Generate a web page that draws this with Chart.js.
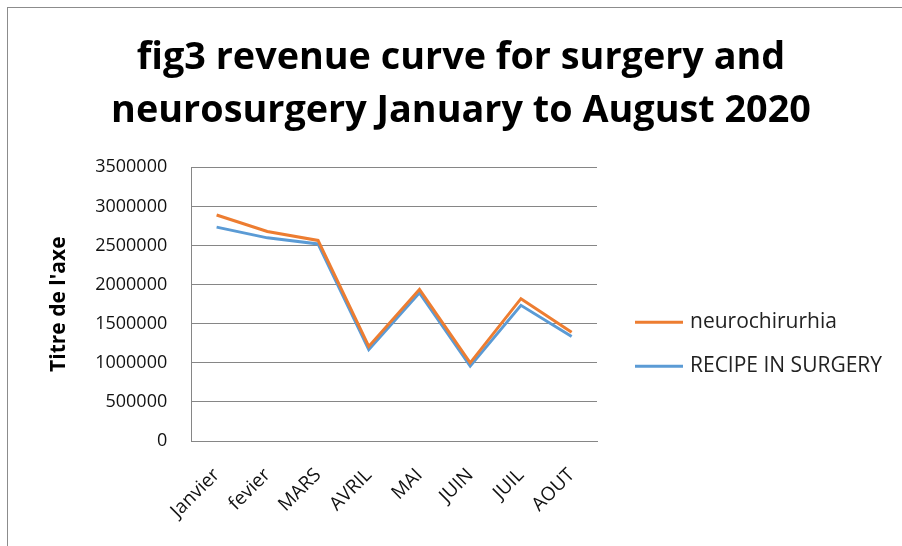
<!DOCTYPE html>
<html>
<head>
<meta charset="utf-8">
<script src="https://cdn.jsdelivr.net/npm/chart.js@4/dist/chart.umd.min.js"></script>
<style>
  html, body { margin: 0; padding: 0; background: #fff; }
  #wrap { position: relative; width: 902px; height: 546px; }
  #frame { position: absolute; left: 7px; top: 7px; width: 900px; height: 545px; border-top: 1px solid #8c8c8c; border-left: 1px solid #8c8c8c; pointer-events: none; }
  canvas { position: absolute; left: 0; top: 0; }
</style>
</head>
<body>
<div id="wrap">
  <canvas id="c" width="902" height="546"></canvas>
  <div id="frame"></div>
</div>
<script>
const categories = ["Janvier", "fevier", "MARS", "AVRIL", "MAI", "JUIN", "JUIL", "AOUT"];
const neurochirurhia = [2890000, 2680000, 2565000, 1210000, 1940000, 1000000, 1820000, 1390000];
const recipeInSurgery = [2735000, 2598000, 2520000, 1170000, 1895000, 958000, 1735000, 1337000];
const seriesNames = ["neurochirurhia", "RECIPE IN SURGERY"];
const titleLines = ["fig3 revenue curve for surgery and", "neurosurgery January to August 2020"];
const yAxisTitle = "Titre de l'axe";

const FONT = "'Open Sans', 'Liberation Sans', sans-serif";
const mc = document.createElement('canvas').getContext('2d');
mc.font = "bold 100px " + FONT;
const w2 = mc.measureText(titleLines[1]).width;
const titleSize = Math.min(40, 100 * 700 / w2);

// legend drawn to the right of the plot area, like the reference
const sideLegend = {
  id: 'sideLegend',
  afterDraw(chart) {
    const ctx = chart.ctx;
    const a = chart.chartArea;
    const x0 = a.right + 38, lineW = 48, gap = 7;
    const yMid = (a.top + a.bottom) / 2;
    const step = 44;
    const ys = [yMid + 18, yMid + 18 + step];
    ctx.save();
    chart.data.datasets.forEach((ds, i) => {
      const y = ys[i];
      ctx.strokeStyle = ds.borderColor;
      ctx.lineWidth = 3;
      ctx.beginPath();
      ctx.moveTo(x0, y);
      ctx.lineTo(x0 + lineW, y);
      ctx.stroke();
      ctx.fillStyle = '#222';
      ctx.font = "21px " + FONT;
      ctx.textBaseline = 'middle';
      ctx.textAlign = 'left';
      ctx.fillText(ds.label, x0 + lineW + gap, y);
    });
    ctx.restore();
  }
};

new Chart(document.getElementById('c'), {
  type: 'line',
  data: {
    labels: categories,
    datasets: [
      { label: seriesNames[0], data: neurochirurhia, borderColor: '#ED7D31', backgroundColor: '#ED7D31', borderWidth: 3, pointRadius: 0, tension: 0 },
      { label: seriesNames[1], data: recipeInSurgery, borderColor: '#5B9BD5', backgroundColor: '#5B9BD5', borderWidth: 3, pointRadius: 0, tension: 0 }
    ]
  },
  plugins: [sideLegend],
  options: {
    responsive: false,
    animation: false,
    layout: { padding: { left: 20, right: 0, top: 31, bottom: 0 } },
    plugins: {
      title: {
        display: true,
        text: titleLines,
        color: '#000',
        font: { family: FONT, size: titleSize, weight: 'bold', lineHeight: 1.42 },
        padding: { top: 0, bottom: 29 }
      },
      legend: { display: false },
      tooltip: { enabled: false }
    },
    scales: {
      x: {
        offset: true,
        grid: { display: false, drawTicks: false },
        border: { display: true, color: '#868686', width: 1 },
        ticks: { color: '#111', font: { family: FONT, size: 19 }, minRotation: 45, maxRotation: 45, padding: 23, autoSkip: false },
        afterFit(scale) { scale.height = 105; }
      },
      y: {
        min: 0, max: 3500000,
        grid: { color: '#868686', lineWidth: 1, drawTicks: false },
        border: { display: true, color: '#868686', width: 1 },
        ticks: { stepSize: 500000, color: '#111', font: { family: FONT, size: 18 }, padding: 24, callback: v => String(v) },
        title: { display: true, text: yAxisTitle, color: '#000', font: { family: FONT, size: 21, weight: 'bold' }, padding: { top: 26, bottom: 0 } }
      },
      legendSpace: {
        position: 'right',
        axis: 'y',
        type: 'linear',
        display: true,
        grid: { display: false, drawTicks: false },
        border: { display: false },
        ticks: { display: false },
        afterFit(scale) { scale.width = 305; }
      }
    }
  }
});
</script>
</body>
</html>
